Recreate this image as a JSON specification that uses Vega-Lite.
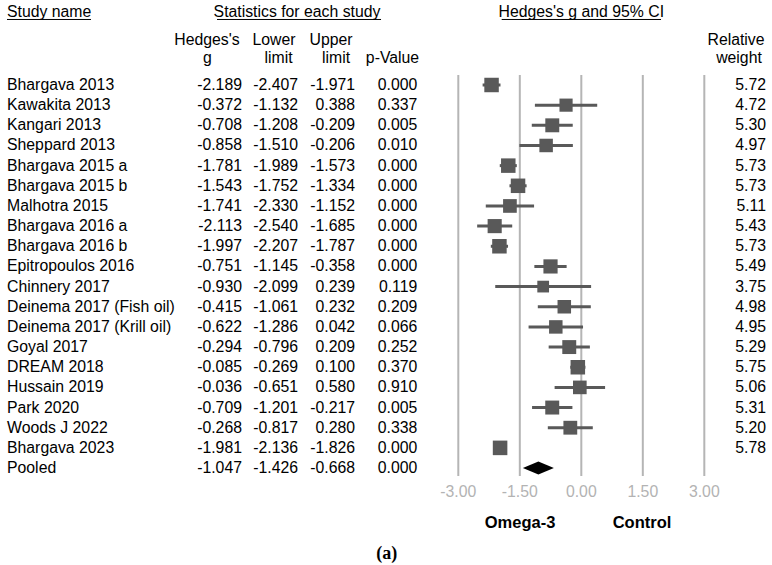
{
  "$schema": "https://vega.github.io/schema/vega-lite/v6.json",
  "width": 772,
  "height": 565,
  "padding": 0,
  "autosize": {"type": "fit", "contains": "padding"},
  "background": "white",
  "config": {
    "view": {"stroke": null},
    "axis": {"disable": true},
    "text": {"font": "Liberation Sans", "fontSize": 15.8, "color": "black", "baseline": "middle"},
    "locale": {"number": {"decimal": ".", "thousands": ",", "grouping": [3], "currency": ["$", ""], "minus": "-"}}
  },
  "datasets": {
    "studies": [
      {"row": 0, "study": "Bhargava 2013", "g": -2.189, "lower": -2.407, "upper": -1.971, "p": 0.000, "weight": 5.72},
      {"row": 1, "study": "Kawakita 2013", "g": -0.372, "lower": -1.132, "upper": 0.388, "p": 0.337, "weight": 4.72},
      {"row": 2, "study": "Kangari 2013", "g": -0.708, "lower": -1.208, "upper": -0.209, "p": 0.005, "weight": 5.30},
      {"row": 3, "study": "Sheppard 2013", "g": -0.858, "lower": -1.510, "upper": -0.206, "p": 0.010, "weight": 4.97},
      {"row": 4, "study": "Bhargava 2015 a", "g": -1.781, "lower": -1.989, "upper": -1.573, "p": 0.000, "weight": 5.73},
      {"row": 5, "study": "Bhargava 2015 b", "g": -1.543, "lower": -1.752, "upper": -1.334, "p": 0.000, "weight": 5.73},
      {"row": 6, "study": "Malhotra 2015", "g": -1.741, "lower": -2.330, "upper": -1.152, "p": 0.000, "weight": 5.11},
      {"row": 7, "study": "Bhargava 2016 a", "g": -2.113, "lower": -2.540, "upper": -1.685, "p": 0.000, "weight": 5.43},
      {"row": 8, "study": "Bhargava 2016 b", "g": -1.997, "lower": -2.207, "upper": -1.787, "p": 0.000, "weight": 5.73},
      {"row": 9, "study": "Epitropoulos 2016", "g": -0.751, "lower": -1.145, "upper": -0.358, "p": 0.000, "weight": 5.49},
      {"row": 10, "study": "Chinnery 2017", "g": -0.930, "lower": -2.099, "upper": 0.239, "p": 0.119, "weight": 3.75},
      {"row": 11, "study": "Deinema 2017 (Fish oil)", "g": -0.415, "lower": -1.061, "upper": 0.232, "p": 0.209, "weight": 4.98},
      {"row": 12, "study": "Deinema 2017 (Krill oil)", "g": -0.622, "lower": -1.286, "upper": 0.042, "p": 0.066, "weight": 4.95},
      {"row": 13, "study": "Goyal 2017", "g": -0.294, "lower": -0.796, "upper": 0.209, "p": 0.252, "weight": 5.29},
      {"row": 14, "study": "DREAM 2018", "g": -0.085, "lower": -0.269, "upper": 0.100, "p": 0.370, "weight": 5.75},
      {"row": 15, "study": "Hussain 2019", "g": -0.036, "lower": -0.651, "upper": 0.580, "p": 0.910, "weight": 5.06},
      {"row": 16, "study": "Park 2020", "g": -0.709, "lower": -1.201, "upper": -0.217, "p": 0.005, "weight": 5.31},
      {"row": 17, "study": "Woods J 2022", "g": -0.268, "lower": -0.817, "upper": 0.280, "p": 0.338, "weight": 5.20},
      {"row": 18, "study": "Bhargava 2023", "g": -1.981, "lower": -2.136, "upper": -1.826, "p": 0.000, "weight": 5.78},
      {"row": 19, "study": "Pooled", "g": -1.047, "lower": -1.426, "upper": -0.668, "p": 0.000, "weight": null}
    ],
    "ticks": [{"v": -3}, {"v": -1.5}, {"v": 0}, {"v": 1.5}, {"v": 3}]
  },
  "layer": [
    {
      "data": {"name": "ticks"},
      "mark": {"type": "rule", "color": "#b5b5b5", "strokeWidth": 2},
      "encoding": {
        "x": {"field": "v", "type": "quantitative", "scale": {"domain": [-14.178, 4.651], "nice": false, "zero": false}, "axis": null},
        "y": {"datum": -0.5, "type": "quantitative", "scale": {"domain": [-4.216, 23.81], "nice": false, "zero": false, "reverse": true}, "axis": null},
        "y2": {"datum": 19.4}
      }
    },
    {
      "data": {"name": "ticks"},
      "mark": {"type": "text", "color": "#b3b3b3", "align": "center"},
      "encoding": {
        "x": {"field": "v", "type": "quantitative"},
        "y": {"datum": 20.21, "type": "quantitative"},
        "text": {"field": "v", "type": "quantitative", "format": ".2f"}
      }
    },
    {
      "data": {"name": "studies"},
      "transform": [{"filter": "datum.study !== 'Pooled'"}],
      "mark": {"type": "rule", "color": "#595959", "strokeWidth": 3},
      "encoding": {
        "x": {"field": "lower", "type": "quantitative"},
        "x2": {"field": "upper"},
        "y": {"field": "row", "type": "quantitative"}
      }
    },
    {
      "data": {"name": "studies"},
      "transform": [{"filter": "datum.study !== 'Pooled'"}],
      "mark": {"type": "point", "shape": "square", "filled": true, "color": "#595959", "opacity": 1, "strokeWidth": 0},
      "encoding": {
        "x": {"field": "g", "type": "quantitative"},
        "y": {"field": "row", "type": "quantitative"},
        "size": {"field": "weight", "type": "quantitative", "scale": {"type": "linear", "zero": true, "domain": [0, 5.78], "range": [0, 212]}, "legend": null}
      }
    },
    {
      "data": {"name": "studies"},
      "transform": [{"filter": "datum.study === 'Pooled'"}],
      "mark": {"type": "point", "shape": "M-1,0L0,-0.42L1,0L0,0.42Z", "filled": true, "color": "black", "opacity": 1, "size": 961, "strokeWidth": 0},
      "encoding": {
        "x": {"field": "g", "type": "quantitative"},
        "y": {"field": "row", "type": "quantitative"}
      }
    },
    {
      "data": {"name": "studies"},
      "mark": {"type": "text", "align": "left"},
      "encoding": {
        "x": {"datum": -14.007, "type": "quantitative"},
        "y": {"field": "row", "type": "quantitative"},
        "text": {"field": "study", "type": "nominal"}
      }
    },
    {
      "data": {"name": "studies"},
      "mark": {"type": "text", "align": "right"},
      "encoding": {
        "x": {"datum": -8.276, "type": "quantitative"},
        "y": {"field": "row", "type": "quantitative"},
        "text": {"field": "g", "type": "quantitative", "format": ".3f"}
      }
    },
    {
      "data": {"name": "studies"},
      "mark": {"type": "text", "align": "right"},
      "encoding": {
        "x": {"datum": -6.91, "type": "quantitative"},
        "y": {"field": "row", "type": "quantitative"},
        "text": {"field": "lower", "type": "quantitative", "format": ".3f"}
      }
    },
    {
      "data": {"name": "studies"},
      "mark": {"type": "text", "align": "right"},
      "encoding": {
        "x": {"datum": -5.519, "type": "quantitative"},
        "y": {"field": "row", "type": "quantitative"},
        "text": {"field": "upper", "type": "quantitative", "format": ".3f"}
      }
    },
    {
      "data": {"name": "studies"},
      "mark": {"type": "text", "align": "right"},
      "encoding": {
        "x": {"datum": -4.0, "type": "quantitative"},
        "y": {"field": "row", "type": "quantitative"},
        "text": {"field": "p", "type": "quantitative", "format": ".3f"}
      }
    },
    {
      "data": {"name": "studies"},
      "transform": [{"filter": "isValid(datum.weight)"}],
      "mark": {"type": "text", "align": "right"},
      "encoding": {
        "x": {"datum": 4.505, "type": "quantitative"},
        "y": {"field": "row", "type": "quantitative"},
        "text": {"field": "weight", "type": "quantitative", "format": ".2f"}
      }
    },
    {
      "data": {"values": [{}]},
      "mark": {"type": "text", "align": "left", "text": "Study name"},
      "encoding": {"x": {"datum": -14.007, "type": "quantitative"}, "y": {"datum": -3.62, "type": "quantitative"}}
    },
    {
      "data": {"values": [{}]},
      "mark": {"type": "text", "align": "center", "text": "Statistics for each study"},
      "encoding": {"x": {"datum": -6.934, "type": "quantitative"}, "y": {"datum": -3.62, "type": "quantitative"}}
    },
    {
      "data": {"values": [{}]},
      "mark": {"type": "text", "align": "center", "text": "Hedges's g and 95% CI"},
      "encoding": {"x": {"datum": 0.0, "type": "quantitative"}, "y": {"datum": -3.62, "type": "quantitative"}}
    },
    {
      "data": {"values": [{}]},
      "mark": {"type": "rule", "color": "black", "strokeWidth": 1},
      "encoding": {"x": {"datum": -14.007, "type": "quantitative"}, "x2": {"datum": -11.959}, "y": {"datum": -3.25, "type": "quantitative"}}
    },
    {
      "data": {"values": [{}]},
      "mark": {"type": "rule", "color": "black", "strokeWidth": 1},
      "encoding": {"x": {"datum": -8.885, "type": "quantitative"}, "x2": {"datum": -4.885}, "y": {"datum": -3.25, "type": "quantitative"}}
    },
    {
      "data": {"values": [{}]},
      "mark": {"type": "rule", "color": "black", "strokeWidth": 1},
      "encoding": {"x": {"datum": -1.942, "type": "quantitative"}, "x2": {"datum": 1.944}, "y": {"datum": -3.25, "type": "quantitative"}}
    },
    {
      "data": {"values": [{}]},
      "mark": {"type": "text", "align": "center", "text": "Hedges's"},
      "encoding": {"x": {"datum": -9.129, "type": "quantitative"}, "y": {"datum": -2.21, "type": "quantitative"}}
    },
    {
      "data": {"values": [{}]},
      "mark": {"type": "text", "align": "center", "text": "g"},
      "encoding": {"x": {"datum": -9.12, "type": "quantitative"}, "y": {"datum": -1.36, "type": "quantitative"}}
    },
    {
      "data": {"values": [{}]},
      "mark": {"type": "text", "align": "center", "text": "Lower"},
      "encoding": {"x": {"datum": -7.495, "type": "quantitative"}, "y": {"datum": -2.21, "type": "quantitative"}}
    },
    {
      "data": {"values": [{}]},
      "mark": {"type": "text", "align": "center", "text": "limit"},
      "encoding": {"x": {"datum": -7.385, "type": "quantitative"}, "y": {"datum": -1.36, "type": "quantitative"}}
    },
    {
      "data": {"values": [{}]},
      "mark": {"type": "text", "align": "center", "text": "Upper"},
      "encoding": {"x": {"datum": -6.105, "type": "quantitative"}, "y": {"datum": -2.21, "type": "quantitative"}}
    },
    {
      "data": {"values": [{}]},
      "mark": {"type": "text", "align": "center", "text": "limit"},
      "encoding": {"x": {"datum": -5.983, "type": "quantitative"}, "y": {"datum": -1.36, "type": "quantitative"}}
    },
    {
      "data": {"values": [{}]},
      "mark": {"type": "text", "align": "center", "text": "p-Value"},
      "encoding": {"x": {"datum": -4.605, "type": "quantitative"}, "y": {"datum": -1.36, "type": "quantitative"}}
    },
    {
      "data": {"values": [{}]},
      "mark": {"type": "text", "align": "center", "text": "Relative"},
      "encoding": {"x": {"datum": 3.773, "type": "quantitative"}, "y": {"datum": -2.25, "type": "quantitative"}}
    },
    {
      "data": {"values": [{}]},
      "mark": {"type": "text", "align": "center", "text": "weight"},
      "encoding": {"x": {"datum": 3.846, "type": "quantitative"}, "y": {"datum": -1.36, "type": "quantitative"}}
    },
    {
      "data": {"values": [{}]},
      "mark": {"type": "text", "align": "center", "text": "Omega-3", "fontWeight": "bold", "fontSize": 16.5},
      "encoding": {"x": {"datum": -1.495, "type": "quantitative"}, "y": {"datum": 21.74, "type": "quantitative"}}
    },
    {
      "data": {"values": [{}]},
      "mark": {"type": "text", "align": "center", "text": "Control", "fontWeight": "bold", "fontSize": 16.5},
      "encoding": {"x": {"datum": 1.48, "type": "quantitative"}, "y": {"datum": 21.74, "type": "quantitative"}}
    },
    {
      "data": {"values": [{}]},
      "mark": {"type": "text", "align": "center", "text": "(a)", "font": "Liberation Serif", "fontWeight": "bold", "fontSize": 18},
      "encoding": {"x": {"datum": -4.746, "type": "quantitative"}, "y": {"datum": 23.25, "type": "quantitative"}}
    }
  ]
}
